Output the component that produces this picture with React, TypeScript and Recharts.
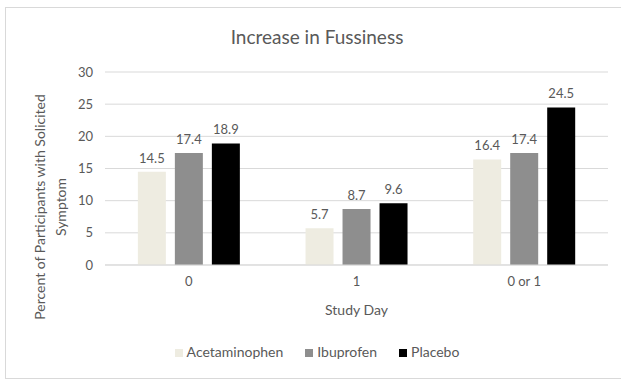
import { BarChart, Bar, XAxis, YAxis, CartesianGrid, Legend, LabelList } from "recharts"

const studyDays = ["0", "1", "0 or 1"]
const acetaminophen = [14.5, 5.7, 16.4]
const ibuprofen = [17.4, 8.7, 17.4]
const placebo = [18.9, 9.6, 24.5]
const yTicks = [0, 5, 10, 15, 20, 25, 30]

const data = studyDays.map((day, i) => ({
  day,
  Acetaminophen: acetaminophen[i],
  Ibuprofen: ibuprofen[i],
  Placebo: placebo[i],
}))

const textColor = "#595959"
const font = "Lato, 'Open Sans', sans-serif"

function YLabel() {
  return (
    <g fill={textColor} fontSize={14} fontFamily={font}>
      <text x={39} y={207} transform="rotate(-90 39 207)" textAnchor="middle" dominantBaseline="central">
        Percent of Participants with Solicited
      </text>
      <text x={60} y={207} transform="rotate(-90 60 207)" textAnchor="middle" dominantBaseline="central">
        Symptom
      </text>
    </g>
  )
}

export default function App() {
  return (
    <div style={{ position: "relative", width: 621, height: 381, background: "#fff", fontFamily: font }}>
      <style>{"body{margin:0}"}</style>
      <div
        style={{
          position: "absolute",
          left: 5,
          top: 7,
          width: 620,
          height: 372,
          border: "1px solid #d9d9d9",
          boxSizing: "border-box",
        }}
      />
      <div
        style={{
          position: "absolute",
          top: 25,
          left: 0,
          width: 634,
          textAlign: "center",
          fontSize: 19,
          color: textColor,
        }}
      >
        Increase in Fussiness
      </div>
      <div style={{ position: "absolute", left: 0, top: 0 }}>
        <BarChart
          width={621}
          height={381}
          data={data}
          margin={{ top: 72, right: 13, left: 0, bottom: 14 }}
          barCategoryGap="19.6%"
          barGap={9}
        >
          <CartesianGrid vertical={false} stroke="#d9d9d9" />
          <XAxis
            dataKey="day"
            height={78}
            tickLine={false}
            axisLine={{ stroke: "#d9d9d9" }}
            tickSize={0}
            tickMargin={12}
            tick={{ fill: textColor, fontSize: 13, fontFamily: font }}
            label={{ value: "Study Day", position: "insideBottom", offset: 28, fill: textColor, fontSize: 14, fontFamily: font }}
          />
          <YAxis
            width={105}
            domain={[0, 30]}
            ticks={yTicks}
            tickLine={false}
            axisLine={false}
            tickSize={0}
            tickMargin={12}
            tick={{ fill: textColor, fontSize: 13, fontFamily: font }}
            label={<YLabel />}
          />
          <Legend
            verticalAlign="bottom"
            height={24}
            iconType="square"
            iconSize={8}
            wrapperStyle={{ fontSize: 14, fontFamily: font, left: 18 }}
            formatter={(value) => (
              <span style={{ color: textColor, paddingRight: value === "Placebo" ? 0 : 12 }}>{value}</span>
            )}
          />
          <Bar dataKey="Acetaminophen" fill="#eeece1" isAnimationActive={false}>
            <LabelList dataKey="Acetaminophen" position="top" offset={9} fill={textColor} fontSize={13} fontFamily={font} />
          </Bar>
          <Bar dataKey="Ibuprofen" fill="#8e8e8e" isAnimationActive={false}>
            <LabelList dataKey="Ibuprofen" position="top" offset={9} fill={textColor} fontSize={13} fontFamily={font} />
          </Bar>
          <Bar dataKey="Placebo" fill="#000000" isAnimationActive={false}>
            <LabelList dataKey="Placebo" position="top" offset={9} fill={textColor} fontSize={13} fontFamily={font} />
          </Bar>
        </BarChart>
      </div>
    </div>
  )
}
